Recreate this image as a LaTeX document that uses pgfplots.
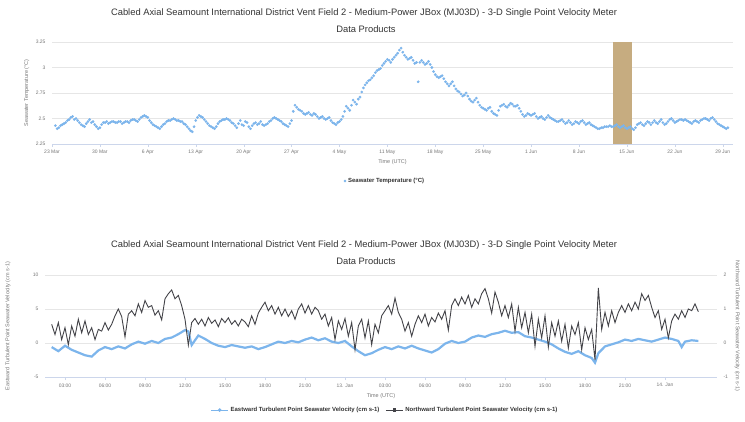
\documentclass[border=0pt]{standalone}
\usepackage{pgfplots}
\pgfplotsset{compat=1.18}
\usepackage{fontspec}
\setmainfont{Liberation Sans}

\definecolor{hcblue}{HTML}{7CB5EC}
\definecolor{hcdark}{HTML}{434348}
\definecolor{gridc}{HTML}{E6E6E6}
\definecolor{axisc}{HTML}{CCD6EB}
\definecolor{labc}{HTML}{777777}
\definecolor{titc}{HTML}{333333}
\definecolor{bandc}{RGB}{198,172,128}

\newcommand\fs[1]{\fontsize{#1}{#1}\selectfont}

\pgfplotsset{
  hc/.style={
    scale only axis,
    axis x line*=bottom, axis y line*=left,
    x axis line style={axisc, line width=0.6pt},
    y axis line style={draw=none},
    ymajorgrids, grid style={gridc, line width=0.6pt},
    major tick length=3bp, tick align=outside,
    xtick style={axisc}, ytick style={draw=none},
    tick label style={font=\fs{5}, text=labc},
    /pgf/number format/assume math mode=true,
    label style={font=\fs{5.5}, text=labc},
    legend style={draw=none, fill=none, font=\bfseries\fs{6}, text=titc},
  }
}

\begin{document}
\begin{tikzpicture}[x=1bp,y=1bp]
\useasboundingbox (0,0) rectangle (745,421);
\fill[white] (0,0) rectangle (745,421);

\node[font=\fs{9.4}, text=titc] at (364,408) {Cabled Axial Seamount International District Vent Field 2 - Medium-Power JBox (MJ03D) - 3-D Single Point Velocity Meter};
\node[font=\fs{9.4}, text=titc] at (366,392) {Data Products};

% top chart: seawater temperature
\begin{axis}[hc,
  at={(52bp,277bp)}, anchor=south west,
  width=681bp, height=102bp,
  xmin=0, xmax=99.5, ymin=2.25, ymax=3.25,
  ytick={2.25,2.5,2.75,3,3.25}, yticklabels={2.25,2.5,2.75,3,3.25},
  xtick={0,7,...,98},
  xticklabels={23 Mar,30 Mar,6 Apr,13 Apr,20 Apr,27 Apr,4 May,11 May,18 May,25 May,1 Jun,8 Jun,15 Jun,22 Jun,29 Jun},
  xlabel={Time (UTC)}, ylabel={Seawater Temperature (°C)},
  xlabel style={at={(axis description cs:0.5,-0.176)}, anchor=center},
  ylabel style={at={(axis description cs:-0.037,0.5)}, anchor=center},
  legend style={at={(0.489,-0.363)}, anchor=center},
  legend image code/.code={\draw[mark repeat=2,mark phase=2] plot coordinates {(0cm,0cm) (0.15cm,0cm) (0.3cm,0cm)};},
]
\addplot[only marks, mark=*, mark size=1.15bp, hcblue] table {
0.5 2.43
1.0 2.41
1.5 2.44
2.0 2.46
2.5 2.49
3.0 2.52
3.5 2.50
4.0 2.46
4.5 2.43
5.0 2.45
5.5 2.49
6.0 2.47
6.5 2.42
7.0 2.41
7.5 2.46
8.0 2.47
8.5 2.46
9.0 2.47
9.5 2.46
10.0 2.47
10.5 2.46
11.0 2.47
11.5 2.48
12.0 2.49
12.5 2.47
13.0 2.51
13.5 2.53
14.0 2.51
14.5 2.46
15.0 2.43
15.5 2.41
16.0 2.42
16.5 2.45
17.0 2.48
17.5 2.49
18.0 2.49
18.5 2.48
19.0 2.47
19.5 2.44
20.0 2.40
20.5 2.37
21.0 2.48
21.5 2.53
22.0 2.51
22.5 2.47
23.0 2.43
23.5 2.41
24.0 2.42
24.5 2.47
25.0 2.49
25.5 2.50
26.0 2.48
26.5 2.45
27.0 2.41
27.5 2.48
28.0 2.43
28.5 2.46
29.0 2.40
29.5 2.45
30.0 2.44
30.5 2.47
31.0 2.43
31.5 2.45
32.0 2.48
32.5 2.51
33.0 2.49
33.5 2.47
34.0 2.44
34.5 2.42
35.0 2.48
35.5 2.63
36.0 2.59
36.5 2.57
37.0 2.54
37.5 2.56
38.0 2.53
38.5 2.54
39.0 2.50
39.5 2.52
40.0 2.49
40.5 2.51
41.0 2.46
41.5 2.44
42.0 2.47
42.5 2.52
43.0 2.62
43.5 2.58
44.0 2.68
44.5 2.64
45.0 2.71
45.5 2.80
46.0 2.85
46.5 2.88
47.0 2.92
47.5 2.97
48.0 2.99
48.5 3.04
49.0 3.08
49.5 3.05
50.0 3.10
50.5 3.14
51.0 3.19
51.5 3.12
52.0 3.08
52.5 3.10
53.0 3.04
53.5 2.86
54.0 3.07
54.5 3.03
55.0 3.06
55.5 3.00
56.0 2.93
56.5 2.90
57.0 2.92
57.5 2.86
58.0 2.82
58.5 2.86
59.0 2.79
59.5 2.76
60.0 2.72
60.5 2.75
61.0 2.69
61.5 2.66
62.0 2.70
62.5 2.63
63.0 2.60
63.5 2.58
64.0 2.61
64.5 2.55
65.0 2.53
65.5 2.62
66.0 2.64
66.5 2.61
67.0 2.65
67.5 2.62
68.0 2.63
68.5 2.57
69.0 2.52
69.5 2.55
70.0 2.53
70.5 2.55
71.0 2.50
71.5 2.52
72.0 2.49
72.5 2.53
73.0 2.50
73.5 2.48
74.0 2.47
74.5 2.49
75.0 2.45
75.5 2.48
76.0 2.44
76.5 2.47
77.0 2.45
77.5 2.48
78.0 2.44
78.5 2.46
79.0 2.43
79.5 2.41
80.0 2.40
80.5 2.41
81.0 2.42
81.5 2.43
82.0 2.42
82.5 2.44
83.0 2.41
83.5 2.43
84.0 2.40
84.5 2.42
85.0 2.39
85.5 2.44
86.0 2.46
86.5 2.43
87.0 2.47
87.5 2.44
88.0 2.48
88.5 2.45
89.0 2.49
89.5 2.44
90.0 2.47
90.5 2.50
91.0 2.46
91.5 2.48
92.0 2.49
92.5 2.49
93.0 2.47
93.5 2.45
94.0 2.48
94.5 2.46
95.0 2.49
95.5 2.50
96.0 2.48
96.5 2.51
97.0 2.47
97.5 2.44
98.0 2.42
98.5 2.40
0.75 2.40
1.25 2.43
1.75 2.45
2.25 2.48
2.75 2.51
3.25 2.49
3.75 2.48
4.25 2.44
4.75 2.42
5.25 2.47
5.75 2.46
6.25 2.44
6.75 2.40
7.25 2.44
7.75 2.46
8.25 2.45
8.75 2.47
9.25 2.46
9.75 2.47
10.25 2.45
10.75 2.47
11.25 2.46
11.75 2.49
12.25 2.48
12.75 2.49
13.25 2.52
13.75 2.52
14.25 2.48
14.75 2.44
15.25 2.42
15.75 2.40
16.25 2.44
16.75 2.47
17.25 2.48
17.75 2.50
18.25 2.48
18.75 2.47
19.25 2.45
19.75 2.42
20.25 2.38
20.75 2.42
21.25 2.51
21.75 2.52
22.25 2.49
22.75 2.45
23.25 2.42
23.75 2.40
24.25 2.45
24.75 2.48
25.25 2.49
25.75 2.49
26.25 2.46
26.75 2.43
27.25 2.45
27.75 2.44
28.25 2.47
28.75 2.42
29.25 2.43
29.75 2.46
30.25 2.45
30.75 2.44
31.25 2.44
31.75 2.47
32.25 2.50
32.75 2.50
33.25 2.48
33.75 2.45
34.25 2.43
34.75 2.45
35.25 2.57
35.75 2.61
36.25 2.58
36.75 2.55
37.25 2.55
37.75 2.54
38.25 2.55
38.75 2.52
39.25 2.51
39.75 2.50
40.25 2.50
40.75 2.48
41.25 2.45
41.75 2.46
42.25 2.49
42.75 2.57
43.25 2.60
43.75 2.63
44.25 2.66
44.75 2.69
45.25 2.76
45.75 2.83
46.25 2.87
46.75 2.90
47.25 2.95
47.75 2.98
48.25 3.02
48.75 3.06
49.25 3.07
49.75 3.08
50.25 3.12
50.75 3.17
51.25 3.15
51.75 3.10
52.25 3.09
52.75 3.07
53.25 3.05
53.75 3.05
54.25 3.05
54.75 3.04
55.25 3.03
55.75 2.96
56.25 2.91
56.75 2.91
57.25 2.89
57.75 2.84
58.25 2.84
58.75 2.82
59.25 2.77
59.75 2.74
60.25 2.73
60.75 2.72
61.25 2.67
61.75 2.68
62.25 2.66
62.75 2.61
63.25 2.59
63.75 2.60
64.25 2.57
64.75 2.54
65.25 2.58
65.75 2.63
66.25 2.62
66.75 2.63
67.25 2.64
67.75 2.62
68.25 2.60
68.75 2.54
69.25 2.53
69.75 2.54
70.25 2.54
70.75 2.52
71.25 2.51
71.75 2.50
72.25 2.51
72.75 2.51
73.25 2.49
73.75 2.47
74.25 2.48
74.75 2.47
75.25 2.46
75.75 2.46
76.25 2.45
76.75 2.46
77.25 2.47
77.75 2.46
78.25 2.45
78.75 2.44
79.25 2.42
79.75 2.40
80.25 2.41
80.75 2.42
81.25 2.42
81.75 2.42
82.25 2.43
82.75 2.42
83.25 2.42
83.75 2.41
84.25 2.41
84.75 2.40
85.25 2.41
85.75 2.45
86.25 2.44
86.75 2.45
87.25 2.46
87.75 2.46
88.25 2.46
88.75 2.47
89.25 2.46
89.75 2.45
90.25 2.49
90.75 2.48
91.25 2.47
91.75 2.49
92.25 2.48
92.75 2.48
93.25 2.46
93.75 2.47
94.25 2.47
94.75 2.48
95.25 2.50
95.75 2.49
96.25 2.50
96.75 2.49
97.25 2.45
97.75 2.43
98.25 2.41
98.75 2.41
};
\addlegendentry{Seawater Temperature (°C)}
\addplot[draw=none, fill=bandc, forget plot] coordinates {(82,2.25) (82,3.25) (84.8,3.25) (84.8,2.25)};
\end{axis}

\node[font=\fs{9.4}, text=titc] at (364,176) {Cabled Axial Seamount International District Vent Field 2 - Medium-Power JBox (MJ03D) - 3-D Single Point Velocity Meter};
\node[font=\fs{9.4}, text=titc] at (366,160) {Data Products};

% bottom chart, left axis: eastward velocity
\begin{axis}[hc,
  at={(45bp,44bp)}, anchor=south west,
  width=672bp, height=102bp,
  xmin=1.5, xmax=51.9, ymin=-5, ymax=10,
  ytick={-5,0,5,10}, yticklabels={-5,0,5,10},
  xtick={3,6,...,48},
  xticklabels={03:00,06:00,09:00,12:00,15:00,18:00,21:00,13. Jan,03:00,06:00,09:00,12:00,15:00,18:00,21:00,14. Jan},
  xlabel={Time (UTC)}, ylabel={Eastward Turbulent Point Seawater Velocity (cm s-1)},
  xlabel style={at={(axis description cs:0.5,-0.186)}, anchor=center},
  ylabel style={at={(axis description cs:-0.055,0.5)}, anchor=center},
]
\addplot[hcblue, line width=2.2pt] table {
2.0 -0.6
2.5 -1.2
3.0 -0.4
3.5 -1.0
4.0 -1.4
4.5 -1.8
5.0 -2.0
5.5 -1.1
6.0 -0.6
6.5 -0.9
7.0 -0.5
7.5 -0.8
8.0 -0.2
8.5 0.2
9.0 -0.1
9.5 0.3
10.0 0.0
10.5 0.6
11.0 0.8
11.5 1.3
12.0 1.9
12.25 1.7
12.5 -0.3
13.0 1.1
13.5 0.6
14.0 0.0
14.5 -0.4
15.0 -0.6
15.5 -0.3
16.0 -0.5
16.5 -0.7
17.0 -0.5
17.5 -0.9
18.0 -0.6
18.5 -0.2
19.0 0.2
19.5 0.0
20.0 0.3
20.5 0.1
21.0 0.5
21.5 0.8
22.0 0.4
22.5 0.7
23.0 0.2
23.5 0.0
24.0 0.3
24.5 -0.5
25.0 -1.2
25.5 -1.8
26.0 -1.5
26.5 -1.0
27.0 -0.6
27.5 -0.9
28.0 -0.5
28.5 -0.8
29.0 -0.4
29.5 -0.8
30.0 -1.1
30.5 -1.4
31.0 -0.9
31.5 -0.1
32.0 0.3
32.5 0.0
33.0 0.2
33.5 0.8
34.0 1.1
34.5 0.9
35.0 1.3
35.5 1.5
36.0 1.8
36.5 1.5
37.0 1.6
37.5 1.0
38.0 0.8
38.5 0.5
39.0 0.2
39.5 -0.2
40.0 -0.8
40.5 -1.3
41.0 -1.6
41.5 -1.2
42.0 -1.8
42.5 -2.2
42.75 -2.9
43.0 -1.5
43.5 -0.5
44.0 -0.2
44.5 0.1
45.0 0.5
45.5 0.3
46.0 0.6
46.5 0.4
47.0 0.2
47.5 0.5
48.0 0.8
48.5 0.6
49.0 0.3
49.25 -0.6
49.5 0.2
50.0 0.4
50.5 0.3
};
\end{axis}

% bottom chart, right axis: northward velocity
\begin{axis}[hc,
  at={(45bp,44bp)}, anchor=south west,
  width=672bp, height=102bp,
  xmin=1.5, xmax=51.9, ymin=-1, ymax=2,
  axis x line=none, axis y line*=right, ymajorgrids=false,
  ytick={-1,0,1,2}, yticklabels={-1,0,1,2},
  ylabel={Northward Turbulent Point Seawater Velocity (cm s-1)},
  ylabel style={at={(axis description cs:1.03,0.5)}, anchor=center, rotate=180},
  legend style={at={(0.506,-0.324)}, anchor=center},
  legend columns=2,
  /tikz/every even column/.append style={column sep=4bp},
]
\addplot[hcdark, line width=0.9pt, forget plot] table {
2.00 0.55
2.25 0.25
2.50 0.60
2.75 0.10
3.00 0.45
3.25 -0.05
3.50 0.50
3.75 0.20
4.00 0.70
4.25 0.30
4.50 0.65
4.75 0.25
5.00 0.45
5.25 0.10
5.50 0.40
5.75 0.35
6.00 0.60
6.25 0.38
6.50 0.55
6.75 0.80
7.00 1.00
7.25 0.78
7.50 0.18
7.75 0.85
8.00 0.95
8.25 0.80
8.50 1.15
8.75 0.90
9.00 1.25
9.25 1.05
9.50 1.10
9.75 0.82
10.00 0.95
10.25 0.68
10.50 1.30
10.75 1.45
11.00 1.56
11.25 1.30
11.50 1.40
11.75 1.10
12.00 0.70
12.25 -0.06
12.50 0.60
12.75 0.72
13.00 0.55
13.25 0.70
13.50 0.50
13.75 0.75
14.00 0.58
14.25 0.68
14.50 0.48
14.75 0.72
15.00 0.60
15.25 0.74
15.50 0.55
15.75 0.66
16.00 0.50
16.25 0.70
16.50 0.62
16.75 0.48
17.00 0.80
17.25 0.55
17.50 0.88
17.75 1.05
18.00 1.20
18.25 0.95
18.50 1.10
18.75 0.85
19.00 1.05
19.25 0.80
19.50 1.00
19.75 0.78
20.00 0.95
20.25 0.70
20.50 1.00
20.75 1.15
21.00 0.88
21.25 1.10
21.50 0.85
21.75 1.05
22.00 0.95
22.25 0.70
22.50 0.85
22.75 0.50
23.00 0.75
23.25 0.10
23.50 0.65
23.75 0.40
24.00 0.72
24.25 0.20
24.50 0.60
24.75 -0.20
25.00 0.50
25.25 0.70
25.50 0.15
25.75 0.65
26.00 -0.05
26.25 0.55
26.50 0.30
26.75 0.80
27.00 0.95
27.25 1.10
27.50 0.85
27.75 1.32
28.00 0.90
28.25 0.70
28.50 0.35
28.75 0.60
29.00 0.20
29.25 0.55
29.50 0.80
29.75 0.60
30.00 0.85
30.25 0.50
30.50 0.75
30.75 0.62
31.00 0.88
31.25 0.70
31.50 0.95
31.75 0.38
32.00 1.10
32.25 1.30
32.50 1.10
32.75 1.35
33.00 1.15
33.25 1.40
33.50 1.05
33.75 1.30
34.00 1.15
34.25 1.45
34.50 1.60
34.75 1.30
35.00 0.88
35.25 1.50
35.50 1.20
35.75 0.80
36.00 1.10
36.25 0.75
36.50 1.15
36.75 0.35
37.00 1.05
37.25 0.45
37.50 0.90
37.75 0.30
38.00 0.85
38.25 -0.10
38.50 0.70
38.75 0.15
39.00 0.80
39.25 -0.12
39.50 0.60
39.75 0.20
40.00 0.65
40.25 0.05
40.50 0.55
40.75 -0.15
41.00 0.50
41.25 0.25
41.50 0.60
41.75 -0.20
42.00 0.45
42.25 0.10
42.50 0.40
42.75 -0.50
43.00 1.62
43.25 0.40
43.50 0.90
43.75 0.50
44.00 0.95
44.25 0.60
44.50 0.90
44.75 1.10
45.00 0.90
45.25 1.15
45.50 0.95
45.75 1.20
46.00 1.00
46.25 1.45
46.50 1.25
46.75 1.40
47.00 1.05
47.25 0.75
47.50 0.95
47.75 0.40
48.00 0.70
48.25 0.15
48.50 0.65
48.75 0.85
49.00 0.70
49.25 0.95
49.50 0.75
49.75 1.00
50.00 0.95
50.25 1.15
50.50 0.92
};
\addlegendimage{hcblue, line width=1pt, mark=*, mark size=1.2bp}
\addlegendentry{Eastward Turbulent Point Seawater Velocity (cm s-1)}
\addlegendimage{hcdark, line width=1pt, mark=square*, mark size=1.2bp}
\addlegendentry{Northward Turbulent Point Seawater Velocity (cm s-1)}
\end{axis}
\end{tikzpicture}
\end{document}
